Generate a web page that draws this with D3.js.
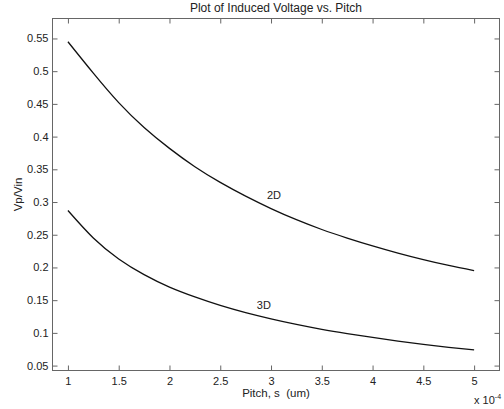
<!DOCTYPE html>
<html>
<head>
<meta charset="utf-8">
<script src="https://cdn.jsdelivr.net/npm/d3@7"></script>
<style>
  body { margin: 0; background: #fff; }
  svg text { font-family: "Liberation Sans", Arial, sans-serif; fill: #222; }
</style>
</head>
<body>
<div id="chart"></div>
<script>
// pitch in units of 1e-4
const pitch = [1, 1.25, 1.5, 1.75, 2, 2.25, 2.5, 2.75, 3, 3.25, 3.5, 3.75, 4, 4.25, 4.5, 4.75, 5];
const v2d = [0.545, 0.497, 0.452, 0.414, 0.382, 0.354, 0.330, 0.309, 0.290, 0.273, 0.258, 0.245, 0.233, 0.222, 0.212, 0.203, 0.195];
const v3d = [0.287, 0.245, 0.213, 0.189, 0.170, 0.155, 0.142, 0.131, 0.1215, 0.113, 0.1055, 0.099, 0.093, 0.0875, 0.0825, 0.078, 0.074];
const xTicks = [1, 1.5, 2, 2.5, 3, 3.5, 4, 4.5, 5];
const yTicks = [0.05, 0.1, 0.15, 0.2, 0.25, 0.3, 0.35, 0.4, 0.45, 0.5, 0.55];
const seriesLabels = [
  { name: "2D", x: 2.96, y: 0.305 },
  { name: "3D", x: 2.86, y: 0.137 }
];

const W = 504, H = 409;
const m = { left: 52.5, right: 4.5, top: 18.5, bottom: 38.5 };

const svg = d3.select("#chart").append("svg")
  .attr("width", W).attr("height", H);

const x = d3.scaleLinear().domain([0.848, 5.25]).range([m.left, W - m.right]);
const y = d3.scaleLinear().domain([0.0425, 0.5805]).range([H - m.bottom, m.top]);

const axisColor = "#666";
const tickLen = 5;

function styleAxis(g) {
  g.selectAll("path.domain").remove();
  g.selectAll(".tick line").attr("stroke", axisColor);
  g.selectAll(".tick text").style("font-size", "11px").attr("fill", "#222");
}

// bottom axis (ticks inward)
svg.append("g")
  .attr("transform", `translate(0,${H - m.bottom})`)
  .call(d3.axisBottom(x).tickValues(xTicks).tickSize(-tickLen).tickPadding(7).tickFormat(d3.format("~g")))
  .call(styleAxis);
// top mirror
svg.append("g")
  .attr("transform", `translate(0,${m.top})`)
  .call(d3.axisTop(x).tickValues(xTicks).tickSize(-tickLen).tickFormat(""))
  .call(styleAxis);
// left axis
svg.append("g")
  .attr("transform", `translate(${m.left},0)`)
  .call(d3.axisLeft(y).tickValues(yTicks).tickSize(-tickLen).tickPadding(4).tickFormat(d3.format("~g")))
  .call(styleAxis);
// right mirror
svg.append("g")
  .attr("transform", `translate(${W - m.right},0)`)
  .call(d3.axisRight(y).tickValues(yTicks).tickSize(-tickLen).tickFormat(""))
  .call(styleAxis);

// frame
svg.append("rect")
  .attr("x", m.left).attr("y", m.top)
  .attr("width", W - m.left - m.right).attr("height", H - m.top - m.bottom)
  .attr("fill", "none").attr("stroke", axisColor).attr("stroke-width", 1);

const line = d3.line()
  .x((d, i) => x(pitch[i]))
  .y(d => y(d))
  .curve(d3.curveNatural);

[v2d, v3d].forEach(s => {
  svg.append("path")
    .attr("d", line(s))
    .attr("fill", "none")
    .attr("stroke", "#111")
    .attr("stroke-width", 1.3);
});

svg.selectAll("text.slabel").data(seriesLabels).enter().append("text")
  .attr("class", "slabel")
  .attr("x", d => x(d.x)).attr("y", d => y(d.y))
  .style("font-size", "11px")
  .text(d => d.name);

// title
svg.append("text")
  .attr("x", (m.left + W - m.right) / 2).attr("y", 12)
  .attr("text-anchor", "middle")
  .style("font-size", "12px")
  .text("Plot of Induced Voltage vs. Pitch");

// x label
svg.append("text")
  .attr("x", (m.left + W - m.right) / 2).attr("y", 397)
  .attr("text-anchor", "middle")
  .style("font-size", "11.5px")
  .style("white-space", "pre")
  .text("Pitch, s  (um)");

// exponent
const ex = svg.append("text")
  .attr("x", 474).attr("y", 404)
  .style("font-size", "11px");
ex.append("tspan").text("x 10");
ex.append("tspan").attr("dy", -5).style("font-size", "7px").text("-4");

// y label
svg.append("text")
  .attr("transform", `translate(22,${(m.top + H - m.bottom) / 2}) rotate(-90)`)
  .attr("text-anchor", "middle")
  .style("font-size", "11.5px")
  .text("Vp/Vin");
</script>
</body>
</html>
